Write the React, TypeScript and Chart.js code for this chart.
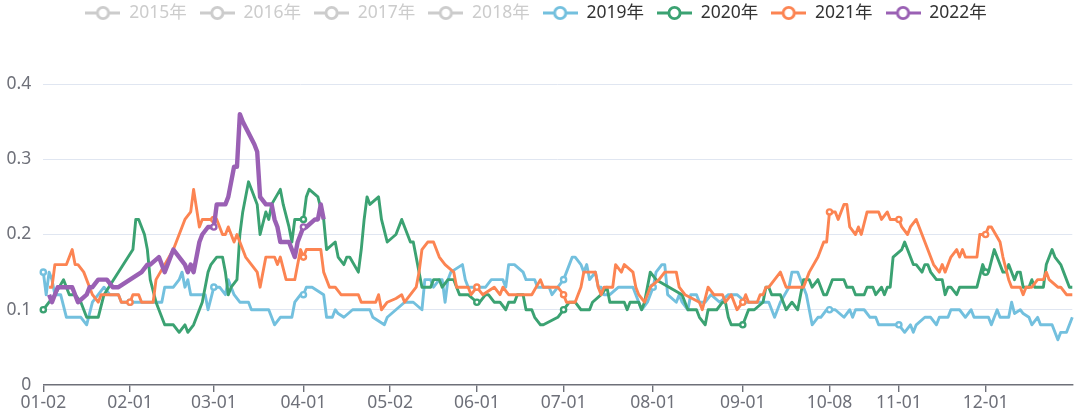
import React, { useEffect, useRef } from 'react';
import { Chart, registerables } from 'chart.js';

Chart.register(...registerables);

const FONT = '"Noto Sans", "Noto Sans CJK SC", sans-serif';

const years = ['2015年', '2016年', '2017年', '2018年', '2019年', '2020年', '2021年', '2022年'];
const colors = ['#5470c6', '#91cc75', '#fac858', '#ee6666', '#73c0de', '#3ba272', '#fc8452', '#9a60b4'];
const hiddenYears = ['2015年', '2016年', '2017年', '2018年'];
const tickLabels = ['01-02', '02-01', '03-01', '04-01', '05-02', '06-01', '07-01', '08-01', '09-01', '10-08', '11-01', '12-01'];
const yTicks = [0, 0.1, 0.2, 0.3, 0.4];

// calendar categories (MM-DD), union of trading days across years
const monthDays = [31, 29, 31, 30, 31, 30, 31, 31, 30, 31, 30, 31];
const closedDays = ['01-01', '05-01', '10-01', '10-02', '10-03', '10-04', '10-05', '10-06', '10-07'];
const pad2 = (n: number) => (n < 10 ? '0' + n : '' + n);
const categories: string[] = [];
monthDays.forEach((n, m) => {
  for (let d = 1; d <= n; d++) {
    const s = pad2(m + 1) + '-' + pad2(d);
    if (!closedDays.includes(s)) categories.push(s);
  }
});

const data2015: [string, number][] = [];
const data2016: [string, number][] = [];
const data2017: [string, number][] = [];
const data2018: [string, number][] = [];

const data2019: [string, number][] = [
  ['01-02', 0.15], ['01-03', 0.12], ['01-04', 0.15], ['01-05', 0.14], ['01-06', 0.12], ['01-08', 0.12], ['01-10', 0.09], ['01-15', 0.09], ['01-17', 0.08], ['01-19', 0.11], ['01-21', 0.12], ['01-23', 0.13], ['01-25', 0.12], ['01-28', 0.12], ['01-29', 0.11],
  ['02-01', 0.11], ['02-12', 0.11], ['02-13', 0.13], ['02-16', 0.13], ['02-18', 0.14], ['02-19', 0.15], ['02-20', 0.13], ['02-21', 0.14], ['02-22', 0.12], ['02-27', 0.12], ['02-28', 0.10],
  ['03-01', 0.13], ['03-03', 0.13], ['03-05', 0.12], ['03-06', 0.14], ['03-08', 0.12], ['03-10', 0.11], ['03-13', 0.11], ['03-14', 0.10], ['03-20', 0.10], ['03-22', 0.08], ['03-24', 0.09], ['03-28', 0.09], ['03-29', 0.11], ['03-31', 0.12],
  ['04-01', 0.12], ['04-02', 0.13], ['04-04', 0.13], ['04-08', 0.12], ['04-09', 0.09], ['04-11', 0.09], ['04-12', 0.10], ['04-13', 0.095], ['04-15', 0.09], ['04-18', 0.10], ['04-24', 0.10], ['04-25', 0.09], ['04-29', 0.08], ['04-30', 0.09],
  ['05-04', 0.10], ['05-07', 0.11], ['05-10', 0.11], ['05-13', 0.10], ['05-14', 0.14], ['05-16', 0.14], ['05-17', 0.13], ['05-19', 0.14], ['05-20', 0.14], ['05-21', 0.11], ['05-22', 0.14], ['05-23', 0.15], ['05-27', 0.16], ['05-28', 0.14], ['05-29', 0.13],
  ['06-04', 0.13], ['06-06', 0.14], ['06-10', 0.14], ['06-11', 0.13], ['06-12', 0.16], ['06-14', 0.16], ['06-17', 0.15], ['06-18', 0.14], ['06-21', 0.14], ['06-22', 0.13], ['06-26', 0.13], ['06-27', 0.12], ['06-29', 0.13],
  ['07-01', 0.14], ['07-02', 0.15], ['07-04', 0.17], ['07-05', 0.17], ['07-07', 0.16], ['07-08', 0.15], ['07-09', 0.16], ['07-10', 0.14], ['07-12', 0.15], ['07-13', 0.13], ['07-14', 0.13], ['07-15', 0.12], ['07-17', 0.12], ['07-20', 0.13], ['07-21', 0.13], ['07-25', 0.13], ['07-26', 0.12], ['07-28', 0.10], ['07-30', 0.11],
  ['08-01', 0.13], ['08-02', 0.15], ['08-04', 0.16], ['08-05', 0.16], ['08-06', 0.12], ['08-09', 0.11], ['08-10', 0.12], ['08-11', 0.11], ['08-13', 0.10], ['08-14', 0.12], ['08-16', 0.12], ['08-17', 0.11], ['08-19', 0.11], ['08-21', 0.12], ['08-24', 0.11], ['08-27', 0.12], ['08-30', 0.12],
  ['09-02', 0.11], ['09-10', 0.11], ['09-12', 0.09], ['09-14', 0.11], ['09-17', 0.13], ['09-18', 0.15], ['09-20', 0.15], ['09-22', 0.13], ['09-23', 0.12], ['09-25', 0.08], ['09-27', 0.09], ['09-28', 0.09], ['09-30', 0.10],
  ['10-08', 0.10], ['10-10', 0.10], ['10-13', 0.09], ['10-15', 0.10], ['10-16', 0.09], ['10-17', 0.10], ['10-20', 0.10], ['10-22', 0.09], ['10-24', 0.09], ['10-25', 0.08], ['10-31', 0.08],
  ['11-01', 0.08], ['11-02', 0.075], ['11-03', 0.07], ['11-05', 0.08], ['11-06', 0.07], ['11-07', 0.08], ['11-10', 0.09], ['11-12', 0.09], ['11-14', 0.08], ['11-15', 0.09], ['11-18', 0.09], ['11-19', 0.10], ['11-22', 0.10], ['11-24', 0.09], ['11-26', 0.10], ['11-27', 0.09],
  ['12-02', 0.09], ['12-03', 0.08], ['12-05', 0.10], ['12-06', 0.09], ['12-09', 0.09], ['12-10', 0.11], ['12-11', 0.095], ['12-13', 0.10], ['12-14', 0.095], ['12-16', 0.09], ['12-17', 0.08], ['12-19', 0.09], ['12-20', 0.08], ['12-24', 0.08], ['12-26', 0.06], ['12-27', 0.07], ['12-29', 0.07], ['12-31', 0.09],
];

const data2020: [string, number][] = [
  ['01-02', 0.10], ['01-04', 0.11], ['01-06', 0.12], ['01-09', 0.14], ['01-11', 0.12], ['01-13', 0.12], ['01-15', 0.11], ['01-16', 0.10], ['01-17', 0.09], ['01-21', 0.09], ['01-23', 0.12],
  ['02-02', 0.18], ['02-03', 0.22], ['02-04', 0.22], ['02-06', 0.20], ['02-07', 0.18], ['02-08', 0.14], ['02-10', 0.11], ['02-12', 0.09], ['02-13', 0.08], ['02-16', 0.08], ['02-18', 0.07], ['02-20', 0.08], ['02-21', 0.07], ['02-23', 0.08], ['02-24', 0.09], ['02-26', 0.11], ['02-28', 0.15], ['02-29', 0.16],
  ['03-02', 0.17], ['03-03', 0.17], ['03-04', 0.17], ['03-05', 0.15], ['03-06', 0.12], ['03-07', 0.13], ['03-09', 0.14], ['03-10', 0.20], ['03-11', 0.23], ['03-13', 0.27], ['03-14', 0.26], ['03-16', 0.24], ['03-17', 0.20], ['03-19', 0.23], ['03-20', 0.22], ['03-21', 0.24], ['03-24', 0.26], ['03-25', 0.24], ['03-27', 0.21], ['03-28', 0.19], ['03-29', 0.22],
  ['04-01', 0.22], ['04-02', 0.25], ['04-03', 0.26], ['04-06', 0.25], ['04-08', 0.22], ['04-09', 0.18], ['04-12', 0.19], ['04-13', 0.17], ['04-15', 0.16], ['04-16', 0.17], ['04-17', 0.17], ['04-20', 0.15], ['04-21', 0.18], ['04-22', 0.22], ['04-23', 0.25], ['04-24', 0.24], ['04-27', 0.25], ['04-28', 0.22], ['04-30', 0.19],
  ['05-04', 0.20], ['05-06', 0.22], ['05-08', 0.20], ['05-09', 0.19], ['05-10', 0.19], ['05-12', 0.15], ['05-13', 0.13], ['05-16', 0.13], ['05-17', 0.14], ['05-19', 0.14], ['05-20', 0.13], ['05-22', 0.14], ['05-24', 0.14], ['05-26', 0.12], ['05-29', 0.12],
  ['06-01', 0.11], ['06-02', 0.11], ['06-04', 0.12], ['06-05', 0.12], ['06-07', 0.11], ['06-09', 0.11], ['06-11', 0.10], ['06-12', 0.11], ['06-14', 0.11], ['06-15', 0.12], ['06-17', 0.12], ['06-18', 0.10], ['06-20', 0.10], ['06-21', 0.09], ['06-23', 0.08], ['06-24', 0.08], ['06-29', 0.09],
  ['07-01', 0.10], ['07-03', 0.11], ['07-05', 0.11], ['07-07', 0.10], ['07-10', 0.10], ['07-11', 0.11], ['07-14', 0.12], ['07-16', 0.13], ['07-17', 0.11], ['07-22', 0.11], ['07-23', 0.10], ['07-24', 0.11], ['07-27', 0.11], ['07-28', 0.10], ['07-29', 0.11], ['07-31', 0.15],
  ['08-02', 0.14], ['08-11', 0.12], ['08-13', 0.10], ['08-16', 0.10], ['08-17', 0.09], ['08-19', 0.08], ['08-20', 0.10], ['08-23', 0.10], ['08-25', 0.11], ['08-26', 0.11], ['08-27', 0.09], ['08-28', 0.08], ['08-31', 0.08],
  ['09-01', 0.08], ['09-03', 0.10], ['09-05', 0.10], ['09-08', 0.11], ['09-09', 0.13], ['09-10', 0.13], ['09-11', 0.12], ['09-14', 0.12], ['09-16', 0.10], ['09-18', 0.11], ['09-20', 0.10], ['09-22', 0.14], ['09-24', 0.14], ['09-25', 0.13], ['09-27', 0.14], ['09-29', 0.12], ['09-30', 0.12],
  ['10-09', 0.14], ['10-13', 0.14], ['10-14', 0.13], ['10-16', 0.13], ['10-17', 0.12], ['10-20', 0.12], ['10-21', 0.13], ['10-23', 0.13], ['10-24', 0.12], ['10-26', 0.13], ['10-27', 0.12], ['10-28', 0.13], ['10-29', 0.13], ['10-30', 0.17],
  ['11-02', 0.18], ['11-03', 0.19], ['11-04', 0.18], ['11-06', 0.16], ['11-07', 0.16], ['11-09', 0.15], ['11-10', 0.16], ['11-11', 0.16], ['11-12', 0.15], ['11-14', 0.14], ['11-16', 0.14], ['11-17', 0.12], ['11-18', 0.13], ['11-19', 0.13], ['11-21', 0.12], ['11-22', 0.13], ['11-23', 0.13], ['11-28', 0.13], ['11-30', 0.16],
  ['12-01', 0.15], ['12-02', 0.15], ['12-04', 0.18], ['12-05', 0.17], ['12-07', 0.15], ['12-08', 0.15], ['12-09', 0.16], ['12-11', 0.14], ['12-12', 0.15], ['12-13', 0.15], ['12-14', 0.13], ['12-16', 0.13], ['12-17', 0.14], ['12-18', 0.13], ['12-21', 0.13], ['12-22', 0.16], ['12-24', 0.18], ['12-25', 0.17], ['12-27', 0.16], ['12-28', 0.15], ['12-30', 0.13], ['12-31', 0.13],
];

const data2021: [string, number][] = [
  ['01-04', 0.13], ['01-05', 0.13], ['01-06', 0.16], ['01-10', 0.16], ['01-12', 0.18], ['01-13', 0.16], ['01-14', 0.16], ['01-16', 0.15], ['01-18', 0.13], ['01-19', 0.12], ['01-21', 0.11], ['01-22', 0.12], ['01-28', 0.12], ['01-29', 0.11],
  ['02-01', 0.11], ['02-02', 0.12], ['02-04', 0.12], ['02-05', 0.11], ['02-09', 0.11], ['02-10', 0.14], ['02-13', 0.16], ['02-16', 0.18], ['02-17', 0.19], ['02-18', 0.20], ['02-19', 0.21], ['02-20', 0.22], ['02-22', 0.23], ['02-23', 0.26], ['02-25', 0.21], ['02-26', 0.22], ['02-28', 0.22],
  ['03-01', 0.22], ['03-02', 0.22], ['03-04', 0.20], ['03-05', 0.20], ['03-06', 0.21], ['03-08', 0.19], ['03-09', 0.20], ['03-10', 0.19], ['03-12', 0.17], ['03-14', 0.16], ['03-16', 0.15], ['03-17', 0.13], ['03-19', 0.17], ['03-22', 0.17], ['03-23', 0.16], ['03-24', 0.17], ['03-26', 0.14], ['03-29', 0.14], ['03-30', 0.16], ['03-31', 0.18],
  ['04-01', 0.17], ['04-02', 0.18], ['04-07', 0.18], ['04-08', 0.15], ['04-10', 0.13], ['04-12', 0.13], ['04-14', 0.12], ['04-20', 0.12], ['04-21', 0.11], ['04-26', 0.11], ['04-27', 0.12], ['04-28', 0.10], ['04-30', 0.11],
  ['05-04', 0.115], ['05-06', 0.12], ['05-07', 0.11], ['05-09', 0.12], ['05-11', 0.13], ['05-12', 0.15], ['05-13', 0.18], ['05-15', 0.19], ['05-17', 0.19], ['05-19', 0.17], ['05-21', 0.16], ['05-24', 0.15], ['05-25', 0.13], ['05-29', 0.13], ['05-30', 0.12],
  ['06-01', 0.13], ['06-03', 0.12], ['06-07', 0.13], ['06-09', 0.12], ['06-10', 0.13], ['06-12', 0.12], ['06-15', 0.12], ['06-20', 0.12], ['06-23', 0.14], ['06-24', 0.13], ['06-29', 0.13],
  ['07-01', 0.12], ['07-02', 0.11], ['07-05', 0.11], ['07-07', 0.13], ['07-08', 0.15], ['07-12', 0.15], ['07-13', 0.13], ['07-14', 0.12], ['07-15', 0.13], ['07-18', 0.13], ['07-19', 0.16], ['07-21', 0.15], ['07-22', 0.16], ['07-25', 0.15], ['07-26', 0.13], ['07-27', 0.12], ['07-29', 0.11], ['07-30', 0.12], ['07-31', 0.13],
  ['08-03', 0.14], ['08-05', 0.15], ['08-09', 0.15], ['08-10', 0.13], ['08-12', 0.12], ['08-17', 0.11], ['08-18', 0.10], ['08-20', 0.13], ['08-22', 0.12], ['08-25', 0.12], ['08-26', 0.11], ['08-28', 0.12], ['08-30', 0.10],
  ['09-01', 0.11], ['09-02', 0.12], ['09-03', 0.11], ['09-06', 0.11], ['09-07', 0.12], ['09-08', 0.12], ['09-09', 0.13], ['09-10', 0.13], ['09-12', 0.14], ['09-14', 0.15], ['09-15', 0.14], ['09-16', 0.13], ['09-22', 0.13], ['09-24', 0.15], ['09-27', 0.17], ['09-29', 0.19], ['09-30', 0.19],
  ['10-08', 0.23], ['10-10', 0.23], ['10-11', 0.22], ['10-13', 0.24], ['10-14', 0.24], ['10-15', 0.21], ['10-17', 0.20], ['10-18', 0.21], ['10-19', 0.20], ['10-21', 0.23], ['10-22', 0.23], ['10-25', 0.23], ['10-26', 0.22], ['10-28', 0.23], ['10-29', 0.22], ['10-31', 0.22],
  ['11-01', 0.22], ['11-02', 0.21], ['11-04', 0.20], ['11-05', 0.21], ['11-07', 0.22], ['11-09', 0.20], ['11-10', 0.19], ['11-12', 0.17], ['11-13', 0.16], ['11-15', 0.15], ['11-16', 0.16], ['11-17', 0.15], ['11-19', 0.17], ['11-21', 0.18], ['11-22', 0.17], ['11-23', 0.18], ['11-24', 0.17], ['11-28', 0.17], ['11-29', 0.20],
  ['12-01', 0.20], ['12-02', 0.21], ['12-03', 0.21], ['12-06', 0.19], ['12-07', 0.17], ['12-09', 0.14], ['12-10', 0.13], ['12-13', 0.13], ['12-14', 0.12], ['12-15', 0.13], ['12-17', 0.13], ['12-19', 0.14], ['12-21', 0.14], ['12-22', 0.15], ['12-23', 0.14], ['12-26', 0.13], ['12-27', 0.13], ['12-29', 0.12], ['12-31', 0.12],
];

const data2022: [string, number][] = [
  ['01-04', 0.12], ['01-05', 0.11], ['01-07', 0.13], ['01-12', 0.13], ['01-14', 0.11], ['01-17', 0.12], ['01-18', 0.13], ['01-19', 0.13], ['01-21', 0.14], ['01-24', 0.14], ['01-26', 0.13], ['01-28', 0.13],
  ['02-05', 0.15], ['02-07', 0.16], ['02-08', 0.16], ['02-11', 0.17], ['02-12', 0.16], ['02-13', 0.15], ['02-14', 0.16], ['02-16', 0.18], ['02-18', 0.17], ['02-20', 0.16], ['02-21', 0.15], ['02-22', 0.16], ['02-23', 0.15], ['02-25', 0.19], ['02-26', 0.20], ['02-28', 0.21],
  ['03-01', 0.21], ['03-02', 0.24], ['03-04', 0.24], ['03-05', 0.24], ['03-06', 0.25], ['03-08', 0.29], ['03-09', 0.29], ['03-10', 0.36], ['03-11', 0.35], ['03-15', 0.32], ['03-16', 0.31], ['03-17', 0.25], ['03-19', 0.24], ['03-21', 0.24], ['03-22', 0.22], ['03-23', 0.21], ['03-24', 0.19], ['03-27', 0.19], ['03-28', 0.18], ['03-29', 0.17], ['03-30', 0.19],
  ['04-01', 0.21], ['04-02', 0.21], ['04-05', 0.22], ['04-06', 0.22], ['04-07', 0.24], ['04-08', 0.22],
];

const allData = [data2015, data2016, data2017, data2018, data2019, data2020, data2021, data2022];
const tickSet = new Set(tickLabels);

function makeIcon(color: string): HTMLCanvasElement {
  const c = document.createElement('canvas');
  c.width = 35;
  c.height = 20;
  const g = c.getContext('2d')!;
  g.strokeStyle = color;
  g.lineWidth = 2.9;
  g.beginPath();
  g.moveTo(0, 10);
  g.lineTo(35, 10);
  g.stroke();
  g.beginPath();
  g.arc(17.5, 10, 5.6, 0, Math.PI * 2);
  g.fillStyle = '#fff';
  g.fill();
  g.stroke();
  return c;
}

const LEGEND_PAD = 13;
const LEGEND_TOP = 13 - LEGEND_PAD - 8.75;
const LEGEND_H = 84 - LEGEND_TOP;

const legendHeightPlugin = {
  id: 'legendHeight',
  beforeInit(chart: any) {
    const legend = chart.legend;
    if (!legend) return;
    const orig = legend.fit;
    legend.fit = function () {
      orig.call(this);
      this.height = LEGEND_H;
    };
  },
};

export default function App() {
  const ref = useRef<HTMLCanvasElement>(null);
  useEffect(() => {
    const canvas = ref.current!;
    const icons = years.map((y, i) => makeIcon(hiddenYears.includes(y) ? '#ccc' : colors[i]));
    const chart = new Chart(canvas, {
      type: 'line',
      data: {
        labels: categories,
        datasets: years.map((name, i) => ({
          label: name,
          data: allData[i].map(([x, y]) => ({ x, y })),
          borderColor: colors[i],
          backgroundColor: colors[i],
          borderWidth: name === '2022年' ? 4.4 : 2.9,
          borderJoinStyle: 'round' as const,
          tension: 0,
          pointRadius: (ctx: any) => (ctx.raw && tickSet.has(ctx.raw.x) ? 2.6 : 0),
          pointHoverRadius: 0,
          pointHitRadius: 0,
          pointBackgroundColor: '#fff',
          pointBorderColor: colors[i],
          pointBorderWidth: 2.4,
          hidden: hiddenYears.includes(name),
          order: years.length - 1 - i,
        })),
      },
      options: {
        responsive: false,
        animation: false,
        devicePixelRatio: 1,
        events: [],
        layout: { padding: { top: LEGEND_TOP, right: 7.7, bottom: 0, left: 0 } },
        plugins: {
          tooltip: { enabled: false },
          legend: {
            position: 'top',
            align: 'center',
            labels: {
              usePointStyle: true,
              pointStyleWidth: 35,
              padding: LEGEND_PAD,
              font: { size: 17.5, family: FONT },
              color: '#333',
              generateLabels: (ch: any) =>
                ch.data.datasets.map((ds: any, i: number) => ({
                  text: ds.label,
                  fillStyle: '#fff',
                  strokeStyle: colors[i],
                  lineWidth: 0,
                  hidden: false,
                  datasetIndex: i,
                  pointStyle: icons[i],
                  fontColor: hiddenYears.includes(ds.label) ? '#ccc' : '#333',
                })),
            },
          },
        },
        scales: {
          x: {
            type: 'category',
            offset: false,
            grid: {
              display: true,
              drawOnChartArea: false,
              drawTicks: true,
              tickLength: 7,
              lineWidth: 1.4,
              color: (ctx: any) => (ctx.tick && tickSet.has(ctx.tick.label) ? '#6E7079' : 'rgba(0,0,0,0)'),
            },
            border: { display: true, color: '#6E7079', width: 1.4 },
            ticks: {
              autoSkip: false,
              maxRotation: 0,
              minRotation: 0,
              padding: 1,
              color: '#6E7079',
              font: { size: 17.5, family: FONT },
              callback: (v: any) => {
                const l = categories[v as number];
                return tickSet.has(l) ? l : null;
              },
            },
            afterFit: (s: any) => {
              s.height = 30;
            },
          },
          y: {
            min: yTicks[0],
            max: yTicks[yTicks.length - 1],
            grid: {
              color: (ctx: any) => (ctx.tick && ctx.tick.value === 0 ? 'rgba(0,0,0,0)' : '#E0E6F1'),
              lineWidth: 1,
              drawTicks: false,
            },
            border: { display: false },
            ticks: {
              stepSize: 0.1,
              padding: 12,
              color: '#6E7079',
              font: { size: 17.5, family: FONT },
              callback: (v: any) => String(Math.round(Number(v) * 10) / 10),
            },
            afterFit: (s: any) => {
              s.width = 43.3;
            },
          },
        },
      },
      plugins: [legendHeightPlugin],
    } as any);
    return () => chart.destroy();
  }, []);
  return (
    <div style={{ position: 'absolute', left: 0, top: 0, width: 1080, height: 415, background: '#fff' }}>
      <canvas ref={ref} width={1080} height={415} style={{ display: 'block', width: 1080, height: 415 }} />
    </div>
  );
}
